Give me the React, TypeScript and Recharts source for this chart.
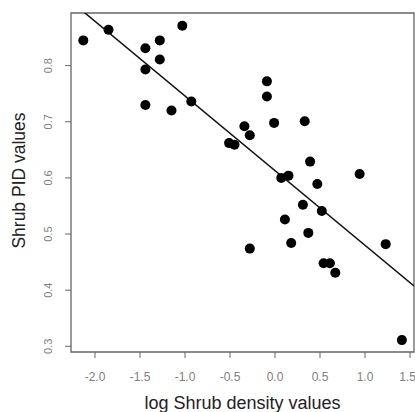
import { ReferenceArea, ReferenceLine, Scatter, ScatterChart, XAxis, YAxis } from "recharts";

// log shrub density (x) vs shrub PID (y)
const densityLog = [
  -2.13, -1.85, -1.44, -1.44, -1.44, -1.28, -1.28, -1.03, -1.15, -0.93, -0.51, -0.45, -0.34, -0.28, -0.28, -0.09,
  -0.09, -0.01, 0.07, 0.15, 0.11, 0.18, 0.33, 0.39, 0.31, 0.37, 0.47, 0.52, 0.54, 0.61, 0.67, 0.94, 1.23, 1.41,
];
const pidValues = [
  0.845, 0.864, 0.831, 0.793, 0.73, 0.845, 0.811, 0.871, 0.72, 0.736, 0.662, 0.659, 0.692, 0.676, 0.474, 0.772,
  0.745, 0.698, 0.6, 0.604, 0.526, 0.484, 0.701, 0.629, 0.552, 0.502, 0.589, 0.541, 0.448, 0.448, 0.431, 0.607,
  0.482, 0.311,
];

const xTicks = [-2, -1.5, -1, -0.5, 0, 0.5, 1, 1.5];
const yTicks = [0.3, 0.4, 0.5, 0.6, 0.7, 0.8];

// fitted regression line
const fitIntercept = 0.613;
const fitSlope = -0.133;

const X_DOMAIN: [number, number] = [-2.2667, 1.5444];
const Y_DOMAIN: [number, number] = [0.2898, 0.8938];

const points = densityLog.map((x, i) => ({ x, y: pidValues[i] }));

const FONT = '"Liberation Sans", Arial, sans-serif';
const AXIS_GRAY = "#666";
const TICK_GRAY = "#808080";

function YTick({ x, y, payload }: any) {
  const cx = x - 14.5;
  return (
    <text
      x={cx}
      y={y}
      transform={`rotate(-90, ${cx}, ${y})`}
      textAnchor="middle"
      dominantBaseline="central"
      fontSize={11}
      fill={TICK_GRAY}
      fontFamily={FONT}
    >
      {payload.value.toFixed(1)}
    </text>
  );
}

function XTitle({ viewBox }: any) {
  return (
    <text
      x={viewBox.x + viewBox.width / 2}
      y={viewBox.y + viewBox.height - 3.5}
      textAnchor="middle"
      fontSize={18}
      fill="#222"
      fontFamily={FONT}
    >
      log Shrub density values
    </text>
  );
}

function YTitle({ viewBox }: any) {
  const cx = viewBox.x + 19;
  const cy = viewBox.y + viewBox.height / 2 - 2;
  return (
    <text
      x={cx}
      y={cy}
      transform={`rotate(-90, ${cx}, ${cy})`}
      textAnchor="middle"
      dominantBaseline="central"
      fontSize={17.5}
      fill="#222"
      fontFamily={FONT}
    >
      Shrub PID values
    </text>
  );
}

const Dot = (props: any) => <circle cx={props.cx} cy={props.cy} r={5} fill="#000" />;

export default function App() {
  return (
    <div
      style={{ position: "absolute", left: 0, top: 0, width: 415, height: 412, overflow: "hidden", background: "#fff" }}
    >
      <ScatterChart width={415} height={412} margin={{ top: 13, right: 1, bottom: 0, left: 0 }}>
        <XAxis
          type="number"
          dataKey="x"
          domain={X_DOMAIN}
          ticks={xTicks}
          allowDataOverflow
          height={60}
          tickSize={6}
          tickMargin={14}
          tickFormatter={(v: number) => v.toFixed(1)}
          tick={{ fontSize: 12, fill: TICK_GRAY, fontFamily: FONT }}
          tickLine={{ stroke: AXIS_GRAY }}
          axisLine={false}
          label={{ content: XTitle }}
        />
        <YAxis
          type="number"
          dataKey="y"
          domain={Y_DOMAIN}
          ticks={yTicks}
          allowDataOverflow
          width={71}
          tickSize={6}
          tick={<YTick />}
          tickLine={{ stroke: AXIS_GRAY }}
          axisLine={false}
          label={{ content: YTitle }}
        />
        <ReferenceArea
          x1={X_DOMAIN[0]}
          x2={X_DOMAIN[1]}
          y1={Y_DOMAIN[0]}
          y2={Y_DOMAIN[1]}
          fill="none"
          fillOpacity={0}
          stroke={AXIS_GRAY}
          strokeWidth={1.3}
        />
        <ReferenceLine
          segment={[
            { x: X_DOMAIN[0], y: fitIntercept + fitSlope * X_DOMAIN[0] },
            { x: X_DOMAIN[1], y: fitIntercept + fitSlope * X_DOMAIN[1] },
          ]}
          ifOverflow="hidden"
          stroke="#111"
          strokeWidth={1.5}
        />
        <Scatter data={points} shape={Dot} isAnimationActive={false} />
      </ScatterChart>
    </div>
  );
}
